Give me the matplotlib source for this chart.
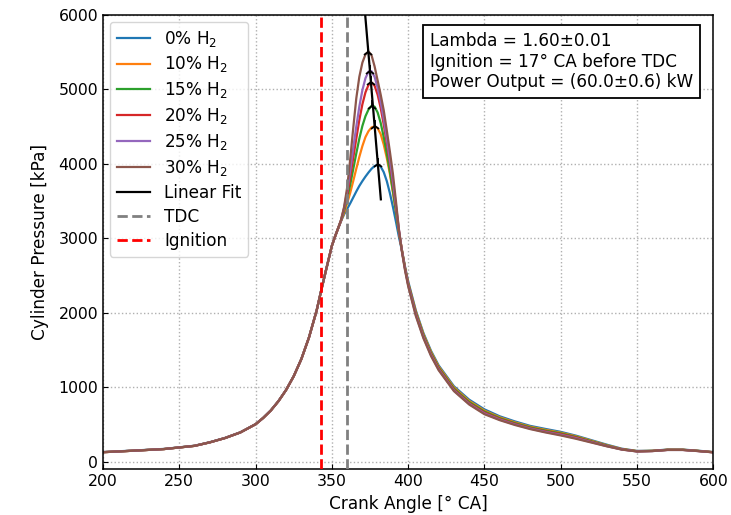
"""
Cylinder pressure traces for different hydrogen admixtures, with the
linear fit through the pressure peaks, TDC and ignition markers.
"""

import numpy as np
import matplotlib
matplotlib.use('Agg')
import matplotlib.pyplot as plt

# Crank angle grid [deg CA]
ANGLE = [200, 220, 240, 260, 270, 280, 290, 300, 305, 310, 315, 320, 325,
         330, 335, 340, 343, 346, 350, 352, 354, 356, 358, 360, 362, 364,
         366, 368, 370, 372, 374, 376, 378, 380, 382, 384, 386, 388, 390,
         392, 394, 396, 398, 400, 405, 410, 415, 420, 430, 440, 450, 460,
         470, 480, 490, 500, 510, 520, 530, 540, 550, 560, 570, 580, 590,
         600]

# Cylinder pressure [kPa], one list per H2 share
P_0 = [132, 152, 174, 217, 264, 322, 397, 507, 592, 692, 817, 967, 1152,
       1382, 1672, 2032, 2302, 2562, 2902, 3022, 3132, 3232, 3322, 3395,
       3470, 3550, 3630, 3705, 3770, 3830, 3885, 3935, 3972, 3990, 3965,
       3890, 3770, 3610, 3425, 3225, 3015, 2830, 2615, 2425, 2035, 1730,
       1490, 1295, 1015, 835, 705, 612, 543, 483, 442, 403, 352, 292, 232,
       177, 147, 150, 165, 165, 150, 132]
P_10 = [130, 150, 172, 215, 262, 320, 395, 505, 590, 690, 815, 965, 1150,
        1380, 1670, 2030, 2300, 2560, 2900, 3020, 3130, 3235, 3340, 3470,
        3610, 3770, 3935, 4095, 4240, 4360, 4440, 4490, 4505, 4480, 4400,
        4260, 4080, 3870, 3620, 3360, 3080, 2835, 2605, 2405, 2020, 1715,
        1475, 1280, 1000, 818, 688, 598, 530, 472, 430, 392, 343, 284, 225,
        173, 145, 148, 163, 163, 148, 130]
P_15 = [130, 150, 172, 215, 262, 320, 395, 505, 590, 690, 815, 965, 1150,
        1380, 1670, 2030, 2300, 2560, 2900, 3020, 3130, 3238, 3370, 3530,
        3720, 3930, 4140, 4340, 4510, 4640, 4730, 4780, 4770, 4690, 4550,
        4360, 4140, 3900, 3640, 3360, 3080, 2830, 2600, 2395, 2005, 1700,
        1460, 1265, 985, 803, 675, 587, 520, 463, 420, 383, 335, 277, 220,
        170, 143, 147, 162, 162, 147, 129]
P_20 = [130, 150, 172, 215, 262, 320, 395, 505, 590, 690, 815, 965, 1150,
        1380, 1670, 2030, 2300, 2560, 2900, 3020, 3130, 3240, 3395, 3580,
        3820, 4080, 4340, 4590, 4800, 4960, 5060, 5095, 5050, 4930, 4750,
        4530, 4280, 4010, 3730, 3420, 3100, 2825, 2590, 2385, 1990, 1685,
        1445, 1252, 970, 788, 662, 576, 510, 453, 410, 373, 327, 270, 215,
        168, 141, 146, 161, 161, 146, 129]
P_25 = [130, 150, 172, 215, 262, 320, 395, 505, 590, 690, 815, 965, 1150,
        1380, 1670, 2030, 2300, 2560, 2900, 3020, 3130, 3243, 3410, 3630,
        3910, 4210, 4500, 4770, 4990, 5150, 5240, 5245, 5170, 5020, 4830,
        4600, 4340, 4060, 3770, 3450, 3110, 2820, 2580, 2375, 1975, 1672,
        1432, 1240, 958, 778, 650, 567, 502, 446, 402, 363, 318, 265, 212,
        166, 140, 145, 160, 160, 145, 128]
P_30 = [130, 150, 172, 215, 262, 320, 395, 505, 590, 690, 815, 965, 1150,
        1380, 1670, 2030, 2300, 2560, 2900, 3020, 3130, 3250, 3420, 3680,
        4060, 4480, 4880, 5170, 5360, 5470, 5510, 5460, 5310, 5120, 4930,
        4720, 4450, 4170, 3870, 3500, 3110, 2810, 2565, 2360, 1960, 1660,
        1420, 1230, 950, 770, 640, 560, 495, 440, 395, 355, 310, 260, 210,
        165, 140, 145, 160, 160, 145, 128]

SERIES = [P_0, P_10, P_15, P_20, P_25, P_30]
LABELS = [r'0% H$_2$', r'10% H$_2$', r'15% H$_2$',
          r'20% H$_2$', r'25% H$_2$', r'30% H$_2$']
COLORS = ['#1f77b4', '#ff7f0e', '#2ca02c', '#d62728', '#9467bd', '#8c564b']

# Pressure peaks (angle [deg CA], pressure [kPa])
PEAK_ANGLE = [380.1, 378.2, 376.6, 375.7, 375.1, 373.8]
PEAK_P = [3997, 4505, 4782, 5097, 5253, 5509]

TDC = 360
IGNITION = 343   # 17 deg CA before TDC

INFO_TEXT = ('Lambda = 1.60\u00b10.01\n'
             'Ignition = 17\u00b0 CA before TDC\n'
             'Power Output = (60.0\u00b10.6) kW')

FS = 12.2        # labels, legend, info box
FS_TICK = 11.3


def main():
    plt.rcParams['font.size'] = FS
    fig = plt.figure(figsize=(7.31, 5.15), dpi=100)
    ax = fig.add_axes([0.1409, 0.0887, 0.8349, 0.8822])

    for p, lab, c in zip(SERIES, LABELS, COLORS):
        ax.plot(ANGLE, p, color=c, lw=1.6, label=lab, zorder=2)

    # linear fit through the peaks
    slope, icpt = np.polyfit(PEAK_ANGLE, PEAK_P, 1)
    fit_x = np.array([min(PEAK_ANGLE) - 2, max(PEAK_ANGLE) + 2])
    ax.plot(fit_x, slope * fit_x + icpt, color='black', lw=1.6,
            label='Linear Fit', zorder=4)
    ax.plot(PEAK_ANGLE, PEAK_P, ls='none', marker='2', ms=8, mew=1.3,
            color='black', zorder=5)

    ax.axvline(TDC, color='gray', ls='--', lw=2, label='TDC', zorder=3)
    ax.axvline(IGNITION, color='red', ls='--', lw=2, label='Ignition',
               zorder=3)

    ax.set_xlim(200, 600)
    ax.set_ylim(-100, 6000)
    ax.set_xticks(np.arange(200, 601, 50))
    ax.set_yticks(np.arange(0, 6001, 1000))
    ax.tick_params(direction='in', labelsize=FS_TICK)
    ax.grid(True, ls=':', color='#b0b0b0', lw=1.0)
    ax.set_axisbelow(True)
    for sp in ax.spines.values():
        sp.set_linewidth(1.1)

    ax.set_xlabel('Crank Angle [\u00b0 CA]', fontsize=FS, labelpad=4)
    ax.set_ylabel('Cylinder Pressure [kPa]', fontsize=FS, labelpad=7)

    ax.legend(loc='upper left', fontsize=FS, labelspacing=0.35,
              handlelength=2.0, borderaxespad=0.4)

    ax.text(0.967, 0.963, INFO_TEXT, transform=ax.transAxes, ha='right',
            va='top', multialignment='left', fontsize=FS, linespacing=1.2,
            bbox=dict(boxstyle='square,pad=0.4', facecolor='white',
                      edgecolor='black', lw=1.3))

    fig.savefig('out.png', dpi=100)
    plt.close(fig)


if __name__ == '__main__':
    main()
